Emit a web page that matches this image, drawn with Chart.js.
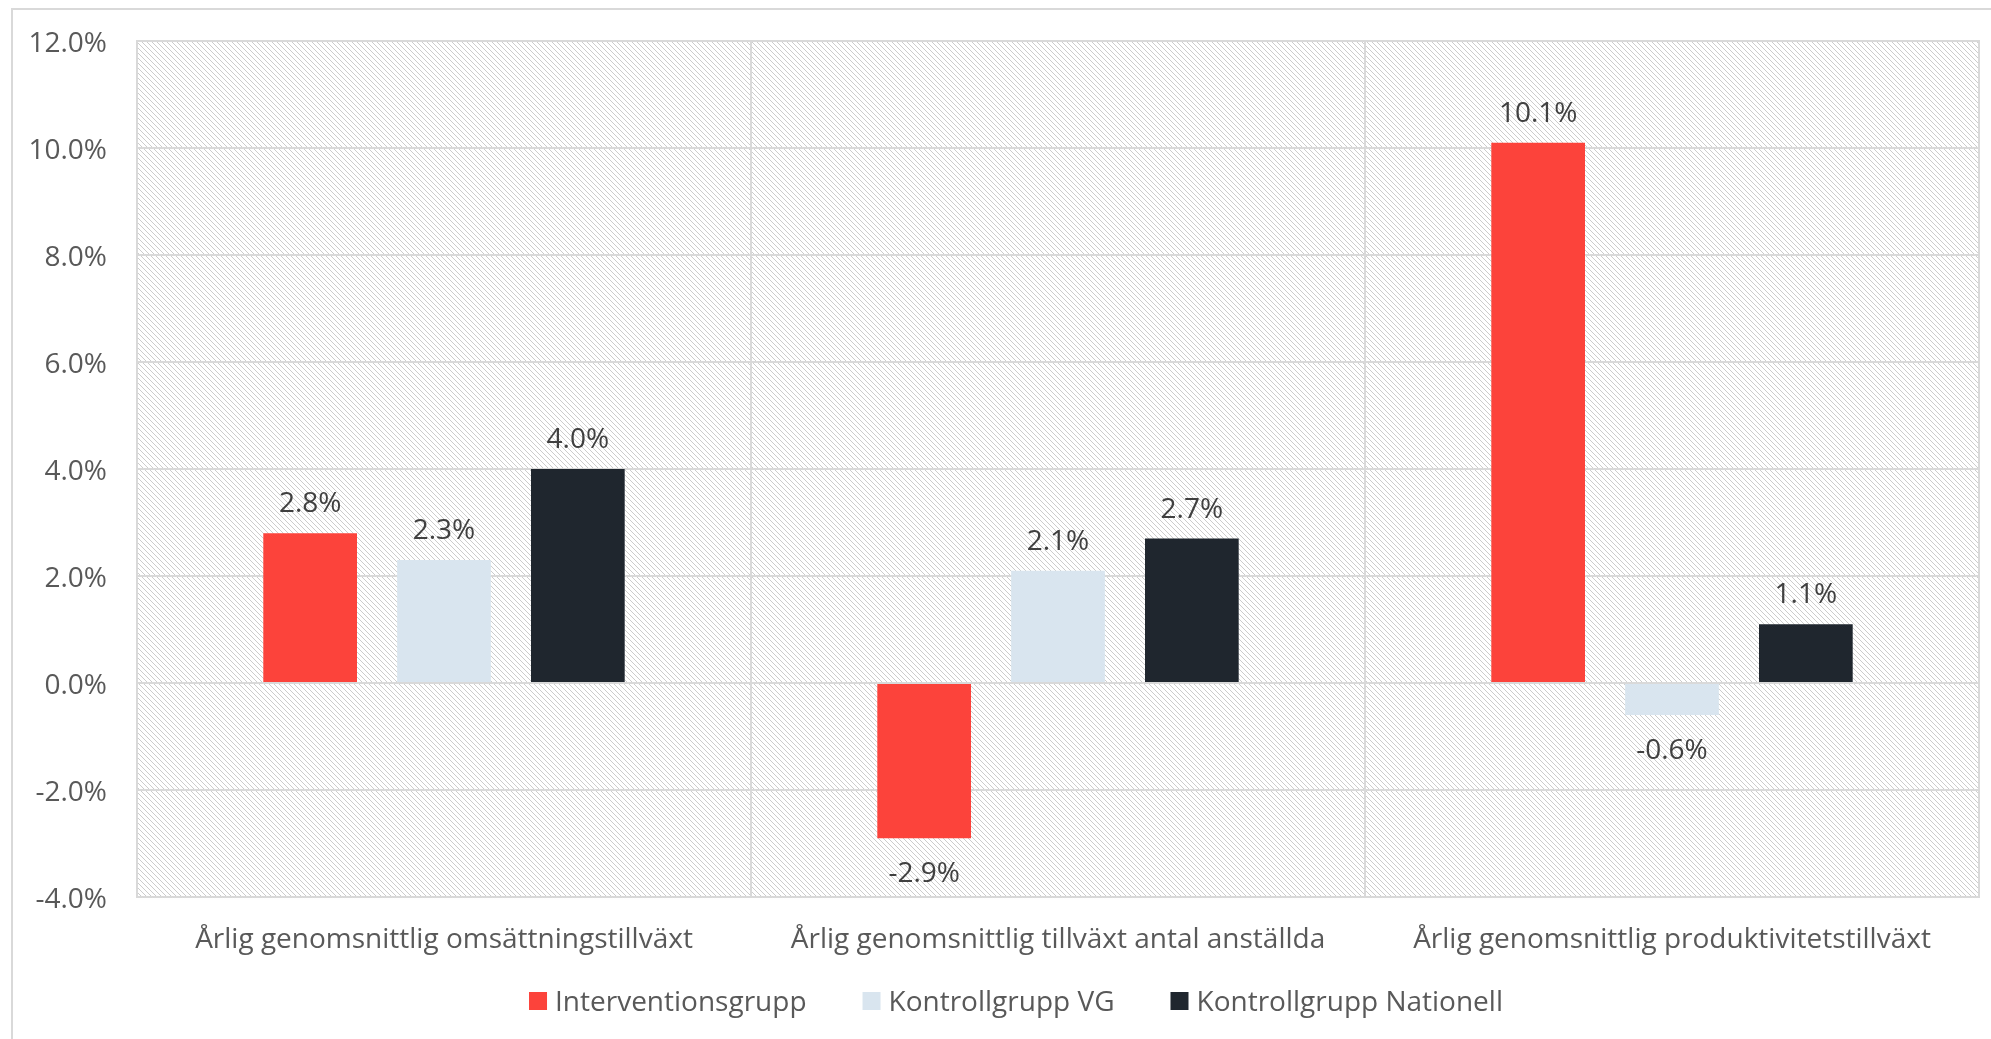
<!DOCTYPE html>
<html>
<head>
<meta charset="utf-8">
<script src="https://cdn.jsdelivr.net/npm/chart.js@4"></script>
<style>
    html, body { margin: 0; padding: 0; background: #fff; }
    #wrap { width: 1991px; height: 1039px; }
</style>
</head>
<body>
<div id="wrap"><canvas id="myChart" width="1991" height="1039"></canvas></div>
<script>
const categories = [
    'Årlig genomsnittlig omsättningstillväxt',
    'Årlig genomsnittlig tillväxt antal anställda',
    'Årlig genomsnittlig produktivitetstillväxt'
];
const seriesNames = ['Interventionsgrupp', 'Kontrollgrupp VG', 'Kontrollgrupp Nationell'];
const interventionsgrupp = [2.8, -2.9, 10.1];
const kontrollgruppVG = [2.3, 2.1, -0.6];
const kontrollgruppNationell = [4.0, 2.7, 1.1];
const yTicks = [-4, -2, 0, 2, 4, 6, 8, 10, 12];

const FONT = "'Open Sans', sans-serif";
const SIZE = 28;

function hatch() {
    const s = 5;
    const c = document.createElement('canvas');
    c.width = s; c.height = s;
    const g = c.getContext('2d');
    g.fillStyle = '#fff';
    g.fillRect(0, 0, s, s);
    g.strokeStyle = '#cccccc';
    g.lineWidth = 1;
    [-s, 0, s].forEach(k => {
        g.beginPath();
        g.moveTo(k, 0);
        g.lineTo(k + s, s);
        g.stroke();
    });
    return g.createPattern(c, 'repeat');
}

// background hatch of the plot area + outer frame
const background = {
    id: 'background',
    beforeDraw(chart) {
        const {ctx, chartArea: a} = chart;
        ctx.save();
        ctx.fillStyle = hatch();
        ctx.fillRect(a.left, a.top, a.right - a.left, a.bottom - a.top);
        ctx.strokeStyle = '#d9d9d9';
        ctx.lineWidth = 2;
        ctx.beginPath();
        ctx.moveTo(12, 1039);
        ctx.lineTo(12, 9);
        ctx.lineTo(1991, 9);
        ctx.stroke();
        ctx.beginPath();
        ctx.moveTo(a.left, a.top);
        ctx.lineTo(a.right, a.top);
        ctx.lineTo(a.right, a.bottom);
        ctx.stroke();
        ctx.restore();
    }
};

// value labels above / below bars
const valueLabels = {
    id: 'valueLabels',
    afterDatasetsDraw(chart) {
        const ctx = chart.ctx;
        ctx.save();
        ctx.font = SIZE + 'px ' + FONT;
        ctx.fillStyle = '#404040';
        ctx.textAlign = 'center';
        ctx.textBaseline = 'middle';
        chart.data.datasets.forEach((ds, i) => {
            chart.getDatasetMeta(i).data.forEach((bar, j) => {
                const v = ds.data[j];
                const y = v >= 0 ? bar.y - 29 : bar.y + 36;
                ctx.fillText(v.toFixed(1) + '%', bar.x, y);
            });
        });
        ctx.restore();
    }
};

// legend row under the category labels
const bottomLegend = {
    id: 'bottomLegend',
    afterDraw(chart) {
        const ctx = chart.ctx;
        const box = 18, gap = 8, space = 56, cy = 1001, cx = 1016;
        ctx.save();
        ctx.font = SIZE + 'px ' + FONT;
        ctx.textBaseline = 'middle';
        const items = chart.data.datasets.map(ds => ({
            text: ds.label, color: ds.backgroundColor, w: ctx.measureText(ds.label).width
        }));
        const total = items.reduce((s, it) => s + box + gap + it.w, 0) + space * (items.length - 1);
        let x = cx - total / 2;
        items.forEach(it => {
            ctx.fillStyle = it.color;
            ctx.fillRect(x, cy - box / 2, box, box);
            ctx.fillStyle = '#595959';
            ctx.fillText(it.text, x + box + gap, cy + 2);
            x += box + gap + it.w + space;
        });
        ctx.restore();
    }
};

const ctx = document.getElementById('myChart').getContext('2d');
const myChart = new Chart(ctx, {
    type: 'bar',
    data: {
        labels: categories,
        datasets: [{
            label: seriesNames[0],
            data: interventionsgrupp,
            backgroundColor: '#fc433b'
        }, {
            label: seriesNames[1],
            data: kontrollgruppVG,
            backgroundColor: '#d9e5ef'
        }, {
            label: seriesNames[2],
            data: kontrollgruppNationell,
            backgroundColor: '#1f262e'
        }]
    },
    options: {
        responsive: false,
        animation: false,
        devicePixelRatio: 1,
        categoryPercentage: 0.654,
        barPercentage: 0.70,
        layout: {
            padding: {left: 0, top: 41, right: 12, bottom: 0}
        },
        plugins: {
            legend: {display: false},
            tooltip: {enabled: false}
        },
        scales: {
            x: {
                grid: {
                    offset: true,
                    drawTicks: false,
                    color: '#d9d9d9',
                    lineWidth: 2
                },
                border: {color: '#d9d9d9', width: 2},
                ticks: {
                    padding: 26,
                    color: '#595959',
                    font: {family: FONT, size: SIZE},
                    maxRotation: 0,
                    autoSkip: false
                },
                afterFit(scale) { scale.height = 142; }
            },
            y: {
                min: -4,
                max: 12,
                afterBuildTicks(scale) {
                    scale.ticks = yTicks.map(v => ({value: v}));
                },
                grid: {
                    drawTicks: false,
                    color: '#d9d9d9',
                    lineWidth: 2
                },
                border: {color: '#d9d9d9', width: 2},
                ticks: {
                    padding: 30,
                    labelOffset: 3,
                    color: '#595959',
                    font: {family: FONT, size: SIZE},
                    callback: v => v.toFixed(1) + '%'
                },
                afterFit(scale) {
                    scale.width = 137;
                    scale.paddingTop = 0;
                    scale.paddingBottom = 0;
                }
            }
        }
    },
    plugins: [background, valueLabels, bottomLegend]
});
</script>
</body>
</html>
